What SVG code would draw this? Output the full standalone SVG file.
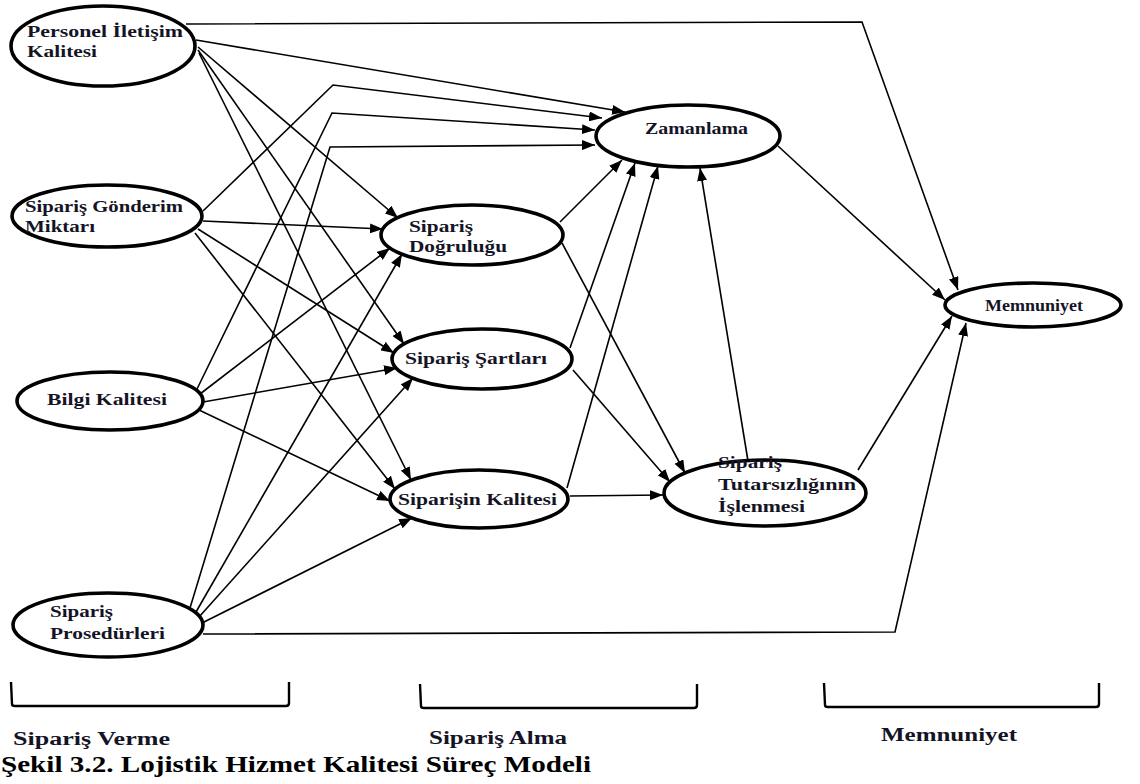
<svg xmlns="http://www.w3.org/2000/svg" width="1140" height="784" viewBox="0 0 1140 784">
  <defs>
    <marker id="ah" markerUnits="userSpaceOnUse" markerWidth="14" markerHeight="10" refX="13" refY="5" orient="auto">
      <path d="M0,0 L13,5 L0,10 z" fill="#000"/>
    </marker>
    <style>
      .edges path { fill: none; stroke: #000; stroke-width: 1.6; marker-end: url(#ah); }
      .node ellipse { fill: #fff; stroke: #000; stroke-width: 3.6; }
      text { font-family: "Liberation Serif", "Times New Roman", serif; font-weight: bold; font-size: 17px; fill: #141426; }
      .lbl { font-size: 18px; }
      .cap { font-size: 24px; fill: #000; }
      .bracket { fill: none; stroke: #000; stroke-width: 2.4; stroke-linejoin: round; }
    </style>
  </defs>
  <rect width="1140" height="784" fill="#fff"/>

  <!-- connectors -->
  <g id="connectors" class="edges">
    <!-- Personel İletişim Kalitesi -->
    <path d="M186,24 L862,22 L958,290"/>
    <path d="M196,40 L625,112"/>
    <path d="M198,47 L398,218"/>
    <path d="M198,50 L404,344"/>
    <path d="M199,53 L411,480"/>
    <!-- Sipariş Gönderim Miktarı -->
    <path d="M203,211 L333,85 L602,118"/>
    <path d="M203,221 L383,229"/>
    <path d="M198,229 L394,353"/>
    <path d="M195,233 L395,489"/>
    <!-- Bilgi Kalitesi -->
    <path d="M197,389 L332,113 L595,130"/>
    <path d="M200,394 L390,248"/>
    <path d="M203,402 L397,368"/>
    <path d="M199,410 L390,501"/>
    <!-- Sipariş Prosedürleri -->
    <path d="M190,608 L330,147 L595,145"/>
    <path d="M196,612 L402,254"/>
    <path d="M199,617 L413,378"/>
    <path d="M202,623 L412,518"/>
    <path d="M203,634 L895,632 L966,323"/>
    <!-- order receiving stage -->
    <path d="M560,222 L622,160"/>
    <path d="M570,348 L635,163"/>
    <path d="M567,488 L658,166"/>
    <path d="M562,243 L685,473"/>
    <path d="M573,370 L670,482"/>
    <path d="M570,496 L663,495"/>
    <path d="M748,461 L700,168"/>
    <!-- satisfaction -->
    <path d="M778,146 L945,300"/>
    <path d="M858,470 L952,316"/>
  </g>

  <!-- order placing -->
  <g id="personel-iletisim" class="node">
    <ellipse cx="103" cy="46" rx="92" ry="40"/>
    <text x="27" y="37" textLength="156" lengthAdjust="spacingAndGlyphs">Personel İletişim</text>
    <text x="27" y="57" textLength="70" lengthAdjust="spacingAndGlyphs">Kalitesi</text>
  </g>
  <g id="gonderim-miktari" class="node">
    <ellipse cx="107" cy="216" rx="95" ry="31"/>
    <text x="25" y="212" textLength="158" lengthAdjust="spacingAndGlyphs">Sipariş Gönderim</text>
    <text x="25" y="232" textLength="70" lengthAdjust="spacingAndGlyphs">Miktarı</text>
  </g>
  <g id="bilgi-kalitesi" class="node">
    <ellipse cx="110" cy="401" rx="93" ry="29"/>
    <text x="47" y="405" textLength="120" lengthAdjust="spacingAndGlyphs">Bilgi Kalitesi</text>
  </g>
  <g id="siparis-prosedurleri" class="node">
    <ellipse cx="108" cy="625" rx="95" ry="32"/>
    <text x="50" y="617" textLength="63" lengthAdjust="spacingAndGlyphs">Sipariş</text>
    <text x="50" y="639" textLength="115" lengthAdjust="spacingAndGlyphs">Prosedürleri</text>
  </g>

  <!-- order receiving -->
  <g id="zamanlama" class="node">
    <ellipse cx="688" cy="136" rx="92" ry="31"/>
    <text x="645" y="134" textLength="103" lengthAdjust="spacingAndGlyphs">Zamanlama</text>
  </g>
  <g id="siparis-dogrulugu" class="node">
    <ellipse cx="472" cy="235" rx="91" ry="30"/>
    <text x="409" y="232" textLength="64" lengthAdjust="spacingAndGlyphs">Sipariş</text>
    <text x="409" y="252" textLength="98" lengthAdjust="spacingAndGlyphs">Doğruluğu</text>
  </g>
  <g id="siparis-sartlari" class="node">
    <ellipse cx="482" cy="359" rx="90" ry="30"/>
    <text x="405" y="364" textLength="142" lengthAdjust="spacingAndGlyphs">Sipariş Şartları</text>
  </g>
  <g id="siparisin-kalitesi" class="node">
    <ellipse cx="479" cy="499" rx="89" ry="29"/>
    <text x="398" y="505" textLength="159" lengthAdjust="spacingAndGlyphs">Siparişin Kalitesi</text>
  </g>
  <g id="tutarsizlik" class="node">
    <ellipse cx="765" cy="493" rx="101" ry="33"/>
    <text x="718" y="468" textLength="64" lengthAdjust="spacingAndGlyphs">Sipariş</text>
    <text x="718" y="490" textLength="138" lengthAdjust="spacingAndGlyphs">Tutarsızlığının</text>
    <text x="718" y="512" textLength="87" lengthAdjust="spacingAndGlyphs">İşlenmesi</text>
  </g>

  <!-- satisfaction -->
  <g id="memnuniyet" class="node">
    <ellipse cx="1033" cy="305" rx="88" ry="22"/>
    <text x="985" y="311" textLength="98" lengthAdjust="spacingAndGlyphs">Memnuniyet</text>
  </g>

  <!-- stage brackets -->
  <g id="stages">
    <path class="bracket" d="M11,682 L12,704 Q12,706 15,706 L286,706 Q289,706 289,703 L289,682"/>
    <path class="bracket" d="M420,684 L421,706 Q421,708 424,708 L694,708 Q697,708 697,705 L697,684"/>
    <path class="bracket" d="M824,683 L825,705 Q825,707 828,707 L1096,707 Q1099,707 1099,704 L1099,683"/>
    <text class="lbl" x="13" y="745" textLength="157" lengthAdjust="spacingAndGlyphs">Sipariş Verme</text>
    <text class="lbl" x="429" y="744" textLength="138" lengthAdjust="spacingAndGlyphs">Sipariş Alma</text>
    <text class="lbl" x="881" y="741" textLength="136" lengthAdjust="spacingAndGlyphs">Memnuniyet</text>
  </g>

  <text class="cap" x="1" y="772" textLength="590" lengthAdjust="spacingAndGlyphs">Şekil 3.2. Lojistik Hizmet Kalitesi Süreç Modeli</text>
</svg>
